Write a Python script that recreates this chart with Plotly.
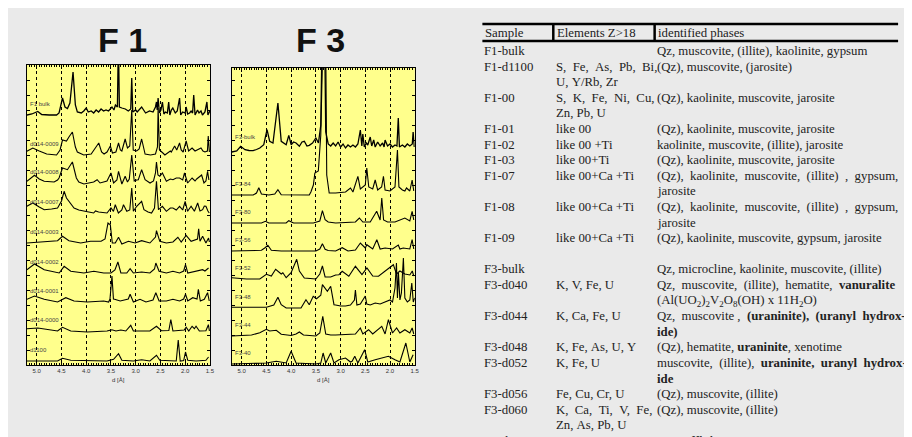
import plotly.graph_objects as go

# ---------------- data: F1 diffractograms (d [Å], relative intensity) ----------------
F1_NAMES = ["F1 bulk", "d014-0009", "d014-0008", "d014-0007", "d014-0003",
            "d014-0002", "d014-0001", "d014-0000", "d1100"]
F1_OFFSETS = [250, 210, 182, 152, 122, 92, 63, 34, 4]

F1_BULK = [(5.2,0),(5.1,1),(4.98,3.5),(4.9,0.5),(4.75,0),(4.6,0),(4.55,2),(4.48,17),(4.43,8),(4.38,6.5),
           (4.33,12),(4.267,43),(4.22,10),(4.18,3),(4.1,2),(4.05,4),(4.0,7),(3.96,3),(3.9,4),(3.85,2),
           (3.8,5),(3.75,3),(3.7,6),(3.65,4),(3.6,5),(3.55,4),(3.48,8),(3.44,5),(3.41,10),(3.37,8),
           (3.35,75),(3.33,8),(3.28,7),(3.21,6),(3.15,4),(3.1,6),(3.08,37),(3.06,3),(3.0,5),(2.97,3),
           (2.88,8),(2.8,2),(2.72,4),(2.65,3),(2.6,8),(2.58,13),(2.565,5),(2.547,17),(2.52,2),(2.49,5),
           (2.46,13),(2.43,1),(2.4,3),(2.36,2),(2.333,13),(2.31,0),(2.28,5),(2.25,7),(2.2,2),(2.16,4),
           (2.113,17),(2.09,0),(2.05,3),(2.0,2),(1.98,8),(1.95,1),(1.91,2),(1.88,4),(1.85,2),(1.827,20),
           (1.8,0),(1.75,5),(1.72,2),(1.68,4),(1.65,0),(1.6,3),(1.56,13),(1.54,0),(1.52,2),(1.5,4)]
F1_0009 = [(5.2,3.7),(5.08,7),(4.95,4),(4.8,1),(4.6,0),(4.53,5),(4.48,15),(4.4,14),(4.35,18),(4.28,23),
           (4.22,8),(4.18,3),(4.05,0),(3.9,1),(3.747,12),(3.69,3),(3.64,1),(3.58,3),(3.513,9),(3.47,2),
           (3.4,3),(3.347,12),(3.31,5),(3.28,4),(3.213,16),(3.167,7),(3.12,9),(3.08,45),(3.05,5),(2.98,4),
           (2.93,6),(2.88,16),(2.81,1),(2.7,0),(2.6,1),(2.56,8),(2.547,47),(2.52,5),(2.45,2),(2.41,0),
           (2.3,4),(2.28,3),(2.213,9),(2.17,5),(2.113,12),(2.08,5),(2.04,3),(1.98,14),(1.93,4),(1.86,7),
           (1.8,4),(1.76,5),(1.68,7),(1.64,4),(1.6,3),(1.55,4),(1.533,19),(1.51,3)]
F1_0008 = [(5.2,1.7),(5.047,7.7),(4.95,4),(4.85,1.7),(4.65,1),(4.58,3),(4.55,5),(4.48,15),(4.38,13.3),(4.28,21),
           (4.2,5),(4.15,1),(4.047,-1),(3.95,0),(3.85,1),(3.78,3.3),(3.72,0),(3.65,1),(3.58,2),(3.5,10),
           (3.447,0),(3.38,3),(3.347,11.7),(3.28,-1),(3.213,6.7),(3.167,1),(3.13,4),(3.08,28),(3.03,2),(2.98,3),
           (2.947,3.3),(2.88,13.3),(2.81,3.3),(2.71,0),(2.64,2),(2.6,10),(2.58,21),(2.55,8),(2.513,6.7),(2.46,10),
           (2.4,3),(2.38,1.7),(2.3,4),(2.247,3.3),(2.18,5),(2.113,5),(2.05,3),(2.013,10),(1.95,0),(1.86,5),
           (1.8,2),(1.767,4),(1.667,8),(1.62,0),(1.58,2),(1.547,11.7),(1.52,3)]
F1_0007 = [(5.2,6.7),(5.08,10),(4.95,6),(4.85,3.3),(4.7,4),(4.58,5),(4.5,12),(4.447,21.7),(4.4,15),(4.3,8),
           (4.247,5),(4.15,3),(4.047,1.7),(3.95,1),(3.85,0),(3.813,2),(3.75,1),(3.65,0),(3.58,0),(3.5,5),
           (3.45,1.7),(3.413,8.3),(3.35,0),(3.28,3),(3.247,8.3),(3.18,1.7),(3.12,3),(3.08,25),(3.047,1.7),(2.98,6.7),
           (2.88,11.7),(2.833,3.3),(2.75,1),(2.68,0),(2.62,5),(2.58,31.7),(2.54,3.3),(2.46,6.7),(2.38,1.7),(2.3,5),
           (2.247,5),(2.18,3),(2.113,6.7),(2.05,3),(2.0,11.7),(1.95,1.7),(1.88,6.7),(1.813,1.7),(1.747,10),(1.7,2),
           (1.647,3.3),(1.613,7),(1.58,6.7),(1.54,2),(1.513,0)]
F1_0003 = [(5.2,0),(4.85,1.7),(4.58,2.3),(4.48,6.7),(4.35,2.3),(4.113,0),(3.913,1.7),(3.7,1.7),(3.62,4),(3.56,20),
           (3.513,18.3),(3.473,0),(3.413,0),(3.347,5.7),(3.28,-1),(3.147,1.7),(3.013,0),(2.88,2.3),(2.713,0),(2.6,6),
           (2.58,12.3),(2.513,1.7),(2.38,0),(2.247,1),(2.147,5.7),(2.08,1),(1.98,7.7),(1.88,1.7),(1.813,3.3),(1.75,4),
           (1.727,14.3),(1.7,1.7),(1.647,6.7),(1.58,0),(1.527,5),(1.51,1)]
F1_0002 = [(5.2,3.3),(5.047,9),(4.85,3.3),(4.547,0),(4.447,6.7),(4.313,1.7),(4.047,0),(3.847,1.7),(3.647,0),(3.5,0),
           (3.42,3),(3.36,11),(3.3,0),(3.18,0),(3.113,4.3),(3.047,0),(2.88,1),(2.713,0),(2.62,4),(2.593,10),
           (2.527,1.7),(2.38,0),(2.247,1.7),(2.113,0),(2.03,2),(1.993,8.3),(1.947,0),(1.78,1.7),(1.647,3.3),(1.6,2),
           (1.527,5)]
F1_0001 = [(5.2,2.7),(5.047,6),(4.85,2.7),(4.58,0),(4.413,4.3),(4.247,1),(3.98,0),(3.647,1),(3.547,0),(3.52,3),
           (3.48,26),(3.45,3),(3.427,2.7),(3.313,1),(3.15,3),(3.113,7.7),(3.047,0),(2.913,2.7),(2.793,0),(2.65,2),
           (2.593,9.3),(2.527,1),(2.38,1),(2.247,2.7),(2.113,1),(2.03,3),(1.993,7.7),(1.947,1),(1.847,4.3),(1.76,3),
           (1.733,12.7),(1.693,1),(1.613,2.7),(1.547,9.3),(1.513,1)]
F1_0000 = [(5.2,2.3),(4.98,3),(4.58,0),(4.48,3.7),(4.313,0),(3.98,-1),(3.58,0),(3.48,1.3),(3.4,0),(3.35,0.3),
           (3.3,1),(3.2,0),(3.1,5.7),(3.047,0),(2.913,0.3),(2.713,0),(2.58,4.7),(2.48,0.3),(2.33,0.5),(2.29,11.3),
           (2.247,0),(2.113,0.3),(2.02,1),(1.98,3.7),(1.927,0),(1.86,4.7),(1.813,2.3),(1.78,4.7),(1.713,0),(1.58,0.3),
           (1.53,6.3),(1.51,0)]
F1_D1100 = [(5.2,0),(4.58,0),(4.48,2.7),(4.313,0.7),(3.58,0),(3.447,1.7),(3.347,7.3),(3.28,0.7),(3.047,0),(2.88,1.3),
            (2.713,0),(2.58,5.7),(2.513,0.7),(2.18,0),(2.14,21),(2.1,0),(2.03,0.5),(1.993,9),(1.947,0.7),(1.78,0),
            (1.58,0.7),(1.527,4)]
F1_DATA = [F1_BULK, F1_0009, F1_0008, F1_0007, F1_0003, F1_0002, F1_0001, F1_0000, F1_D1100]

# ---------------- data: F3 diffractograms ----------------
F3_NAMES = ["F3-bulk", "F3-84", "F3-80", "F3-56", "F3-52", "F3-48", "F3-44", "F3-40"]
F3_OFFSETS = [213, 170, 142, 114, 86, 57, 29, 1]

F3_BULK = [(5.2,0),(5.1,1),(5.02,5.7),(4.933,2.3),(4.85,1.5),(4.767,1.3),(4.7,2.5),(4.633,4),(4.553,7.3),(4.487,22.3),
           (4.433,10.7),(4.367,9),(4.267,49),(4.2,10.7),(4.1,7.3),(4.047,16.7),(4.0,7.3),(3.95,10),(3.9,9),(3.833,5.7),
           (3.78,10),(3.733,10.7),(3.68,6),(3.633,6.7),(3.567,9),(3.5,14),(3.447,9),(3.4,27),(3.36,160),(3.33,160),
           (3.3,20),(3.25,8),(3.2,6),(3.15,9),(3.1,6),(3.05,10),(3.0,5),(2.95,8),(2.9,4),(2.85,7),
           (2.8,5),(2.75,7),(2.7,5),(2.65,8),(2.6,22),(2.57,6),(2.55,18),(2.52,5),(2.48,9),(2.45,7),
           (2.4,15),(2.37,6),(2.33,12),(2.3,5),(2.25,10),(2.2,6),(2.15,9),(2.12,5),(2.1,12),(2.05,6),
           (2.0,8),(1.95,5),(1.9,7),(1.86,6),(1.833,34),(1.81,5),(1.75,7),(1.7,5),(1.65,8),(1.6,6),
           (1.55,8),(1.533,20),(1.51,5)]
F3_84 = [(5.2,0),(4.767,0),(4.7,2),(4.653,7.3),(4.6,1),(4.45,0),(4.33,1),(4.267,5.3),(4.2,0.3),(3.8,0),
         (3.633,0),(3.6,3),(3.55,10),(3.52,22),(3.45,24),(3.4,60),(3.36,150),(3.3,150),(3.28,20),(3.23,2),
         (3.1,2),(2.9,3),(2.8,7),(2.75,3),(2.65,18.7),(2.6,6),(2.5,10),(2.47,27),(2.43,8),(2.35,6),
         (2.3,15),(2.25,5),(2.17,8),(2.133,18.7),(2.1,5),(2.0,4),(1.9,8),(1.85,45),(1.82,8),(1.75,5),
         (1.7,4),(1.667,7),(1.6,4),(1.553,15),(1.52,4)]
F3_80 = [(5.2,0),(4.6,0),(4.52,1.7),(4.45,0),(4.1,0),(4.047,2.3),(3.95,0),(3.55,0),(3.42,2),(3.367,12.3),
         (3.313,3.3),(3.25,1),(3.1,0),(2.9,0.5),(2.7,1),(2.62,5),(2.55,1),(2.4,1),(2.27,11.7),(2.2,3),
         (2.167,25),(2.13,3),(2.05,1),(1.9,1),(1.8,3.3),(1.7,5),(1.6,2),(1.553,11.7),(1.52,3)]
F3_56 = [(5.2,0),(4.6,0.7),(4.533,3),(4.47,5.7),(4.4,0.7),(4.2,0),(3.5,0),(3.42,2),(3.367,7.3),(3.313,1.7),
         (3.25,0.5),(3.1,0),(2.967,3.3),(2.85,0),(2.7,1),(2.6,8),(2.5,3),(2.47,6.3),(2.35,2),(2.267,11.3),
         (2.2,2),(2.1,3),(1.95,2),(1.833,6),(1.8,2),(1.733,3),(1.6,2),(1.553,11.3),(1.52,2)]
F3_52 = [(5.2,1.3),(4.9,0),(4.633,0),(4.5,4.7),(4.4,3),(4.313,9.7),(4.2,5),(4.167,6.3),(4.1,1.3),(4.0,6.3),
         (3.887,19.7),(3.833,8),(3.733,1),(3.5,0),(3.42,5),(3.367,13),(3.313,2),(3.2,2),(3.1,4),(3.033,4.3),
         (2.967,7.7),(2.833,2.7),(2.7,12.7),(2.567,4.3),(2.467,11),(2.35,3),(2.233,2.7),(2.1,7.7),(1.933,14.3),(1.87,5),
         (1.8,8),(1.7,5),(1.6,4),(1.55,8),(1.52,3)]
F3_48 = [(5.2,0.7),(4.5,0.7),(4.35,3),(4.267,10.7),(4.2,3.3),(4.1,0),(3.8,0),(3.7,8.3),(3.633,3.3),(3.553,11.7),
         (3.487,9.3),(3.4,12.7),(3.367,23.3),(3.267,16.7),(3.2,21.7),(3.133,3.3),(3.1,3),(3.0,2),(2.9,2),(2.8,3),
         (2.72,8),(2.7,18),(2.67,3),(2.6,4),(2.5,12),(2.47,4),(2.4,3),(2.3,5),(2.2,4),(2.1,6),
         (2.0,8),(1.95,6),(1.9,20),(1.87,45),(1.85,10),(1.83,35),(1.8,8),(1.77,15),(1.73,50),(1.7,10),
         (1.65,6),(1.6,8),(1.56,25),(1.53,6),(1.5,10)]
F3_44 = [(5.2,0),(4.8,1),(4.633,3.3),(4.567,5),(4.5,6.7),(4.433,5),(4.3,5.7),(4.2,1.7),(4.0,0.5),(3.9,2),
         (3.833,4),(3.75,1),(3.5,0),(3.42,3),(3.36,19.7),(3.3,2),(3.2,1),(3.1,1),(2.9,1.5),(2.7,2),
         (2.6,8),(2.55,2),(2.433,6.3),(2.35,2),(2.167,9.7),(2.1,2),(2.033,16.3),(1.95,3),(1.867,8),(1.8,3),
         (1.7,6.3),(1.6,3),(1.553,8),(1.52,2)]
F3_40 = [(5.2,0),(4.5,1),(4.3,2.7),(4.1,1),(4.0,12.7),(3.9,1),(3.5,0),(3.4,1),(3.353,11),(3.3,1),
         (3.2,11),(3.133,1),(3.033,4.3),(2.9,6),(2.8,2),(2.767,2.7),(2.713,7.7),(2.65,1),(2.513,14.3),(2.45,2),
         (2.3,4.3),(2.167,6),(2.033,7.7),(1.9,4.3),(1.8,2),(1.68,21),(1.6,2),(1.533,9.3)]
F3_DATA = [F3_BULK, F3_84, F3_80, F3_56, F3_52, F3_48, F3_44, F3_40]

D_TICKS = [5.0, 4.5, 4.0, 3.5, 3.0, 2.5, 2.0, 1.5]

# ---------------- data: table ----------------
TABLE_HEADER = ["Sample", "Elements Z>18", "identified phases"]
TABLE_SAMPLE = ["F1-bulk", "F1-d1100", "", "F1-00", "", "F1-01", "F1-02", "F1-03", "F1-07", "",
                "F1-08", "", "F1-09", "", "F3-bulk", "F3-d040", "", "F3-d044", "", "F3-d048",
                "F3-d052", "", "F3-d056", "F3-d060", "", "F3-d064"]
TABLE_ELEMENTS = ["", "S,  Fe,  As,  Pb,  Bi,", "U, Y/Rb, Zr", "S,  K,  Fe,  Ni,  Cu,", "Zn, Pb, U",
                  "like 00", "like 00 +Ti", "like 00+Ti", "like 00+Ca +Ti", "",
                  "like 00+Ca +Ti", "", "like 00+Ca +Ti", "", "",
                  "K, V, Fe, U", "", "K, Ca, Fe, U", "", "K, Fe, As, U, Y",
                  "K, Fe, U", "", "Fe, Cu, Cr, U", "K,  Ca,  Ti,  V,  Fe,", "Zn, As, Pb, U",
                  "K, Ca, Fe, Br, U"]
TABLE_PHASES = ["Qz, muscovite, (illite), kaolinite, gypsum",
                "(Qz), muscovite, (jarosite)",
                "",
                "(Qz), kaolinite, muscovite, jarosite",
                "",
                "(Qz), kaolinite, muscovite, jarosite",
                "kaolinite, muscovite, (illite), jarosite",
                "(Qz), kaolinite, muscovite, jarosite",
                "(Qz),  kaolinite,  muscovite,  (illite)  ,  gypsum,",
                "jarosite",
                "(Qz),  kaolinite,  muscovite,  (illite)  ,  gypsum,",
                "jarosite",
                "(Qz), kaolinite, muscovite, gypsum, jarosite",
                "",
                "Qz, microcline, kaolinite, muscovite, (illite)",
                "Qz,  muscovite,  (illite),  hematite,  <b>vanuralite</b>",
                "(Al(UO<sub>2</sub>)<sub>2</sub>V<sub>2</sub>O<sub>8</sub>(OH) x 11H<sub>2</sub>O)",
                "Qz,  muscovite ,  <b>(uraninite),  (uranyl  hydrox-</b>",
                "<b>ide)</b>",
                "(Qz), hematite, <b>uraninite</b>, xenotime",
                "muscovite,  (illite),  <b>uraninite,  uranyl  hydrox-</b>",
                "<b>ide</b>",
                "(Qz), muscovite, (illite)",
                "(Qz), muscovite, (illite)",
                "",
                "Qz, <b>coffinite</b>"]

# ---------------- figure ----------------
W, H = 912, 437
BG = "#EAEAEA"
PLOT_BG = "#FFFF8C"


def px(x):
    return x / W


def py(y):
    return 1 - y / H


def nb(s):
    return s.replace(" ", "\u00a0")


fig = go.Figure()

for name, off, pts in zip(F1_NAMES, F1_OFFSETS, F1_DATA):
    fig.add_trace(go.Scatter(x=[p[0] for p in pts], y=[p[1] + off for p in pts], mode="lines",
                             line=dict(color="black", width=1.3 if name == "F1 bulk" else 1.1),
                             xaxis="x", yaxis="y", name=name, hoverinfo="skip"))
for name, off, pts in zip(F3_NAMES, F3_OFFSETS, F3_DATA):
    fig.add_trace(go.Scatter(x=[p[0] for p in pts], y=[p[1] + off for p in pts], mode="lines",
                             line=dict(color="black", width=1.3 if name == "F3-bulk" else 1.1),
                             xaxis="x2", yaxis="y2", name=name, hoverinfo="skip"))

xaxis_common = dict(range=[5.2, 1.5], tickvals=D_TICKS, ticktext=["%.1f" % v for v in D_TICKS],
                    ticks="inside", ticklen=4, tickcolor="black", tickwidth=1,
                    minor=dict(dtick=0.05, tick0=1.5, ticks="inside", ticklen=2, tickcolor="black", showgrid=False),
                    showgrid=True, gridcolor="black", griddash="dot", gridwidth=1,
                    showline=True, linecolor="black", linewidth=1, mirror="ticks", zeroline=False,
                    tickfont=dict(family="Liberation Sans", size=6, color="#333"), fixedrange=True)
yaxis_common = dict(showticklabels=False, ticks="inside", ticklen=3, dtick=15, tick0=0,
                    tickcolor="black", showgrid=False, showline=True, linecolor="black",
                    linewidth=1, mirror="ticks", zeroline=False, fixedrange=True)

fig.update_layout(
    width=W, height=H, margin=dict(l=0, r=0, t=0, b=0),
    paper_bgcolor=BG, plot_bgcolor=PLOT_BG, showlegend=False,
    xaxis=dict(domain=[px(19), px(203)], anchor="y", **xaxis_common),
    yaxis=dict(domain=[py(357), py(57)], anchor="x", range=[0, 300], **yaxis_common),
    xaxis2=dict(domain=[px(225), px(409)], anchor="y2", **xaxis_common),
    yaxis2=dict(domain=[py(357), py(60)], anchor="x2", range=[0, 297], **yaxis_common),
)

ann = []
# panel titles
ann.append(dict(text="<b>F 1</b>", x=px(115), y=py(32), xref="paper", yref="paper", showarrow=False,
                xanchor="center", yanchor="middle", font=dict(family="Liberation Sans", size=34, color="#111")))
ann.append(dict(text="<b>F 3</b>", x=px(314), y=py(32), xref="paper", yref="paper", showarrow=False,
                xanchor="center", yanchor="middle", font=dict(family="Liberation Sans", size=34, color="#111")))
# axis titles
for cx in (111, 317):
    ann.append(dict(text="d [Å]", x=px(cx), y=py(372), xref="paper", yref="paper", showarrow=False,
                    xanchor="center", yanchor="middle", font=dict(family="Liberation Sans", size=6, color="#333")))
# trace labels
for name, off in zip(F1_NAMES, F1_OFFSETS):
    ann.append(dict(text=name, x=5.17, y=off + 11, xref="x", yref="y", showarrow=False,
                    xanchor="left", yanchor="middle", font=dict(family="Liberation Sans", size=6, color="#444")))
for name, off in zip(F3_NAMES, F3_OFFSETS):
    ann.append(dict(text=name, x=5.17, y=off + (15 if name == "F3-bulk" else 11), xref="x2", yref="y2",
                    showarrow=False, xanchor="left", yanchor="middle",
                    font=dict(family="Liberation Sans", size=6, color="#444")))

# table
TFONT = dict(family="Liberation Serif", size=12.8, color="#222")
COLX = [477, 549, 651]
HEADX = [478, 550, 652]
for hx, t in zip(HEADX, TABLE_HEADER):
    ann.append(dict(text=nb(t), x=px(hx), y=py(25.5), xref="paper", yref="paper", showarrow=False,
                    xanchor="left", yanchor="middle", font=TFONT))
for k, (s, e, p) in enumerate(zip(TABLE_SAMPLE, TABLE_ELEMENTS, TABLE_PHASES)):
    yk = 43 + 15.6 * k
    for cx, t in zip(COLX, (s, e, p)):
        if t:
            ann.append(dict(text=nb(t), x=px(cx), y=py(yk), xref="paper", yref="paper", showarrow=False,
                            xanchor="left", yanchor="middle", font=TFONT))
fig.update_layout(annotations=ann)

shapes = [
    dict(type="line", xref="paper", yref="paper", x0=px(477), x1=px(895), y0=py(16), y1=py(16),
         line=dict(color="black", width=2.5)),
    dict(type="line", xref="paper", yref="paper", x0=px(477), x1=px(895), y0=py(33), y1=py(33),
         line=dict(color="black", width=2.5)),
    dict(type="line", xref="paper", yref="paper", x0=px(548.3), x1=px(548.3), y0=py(16), y1=py(33),
         line=dict(color="black", width=2.5)),
    dict(type="line", xref="paper", yref="paper", x0=px(650.2), x1=px(650.2), y0=py(16), y1=py(33),
         line=dict(color="black", width=2.5)),
]
fig.update_layout(shapes=shapes)

fig.write_html("out.html")
